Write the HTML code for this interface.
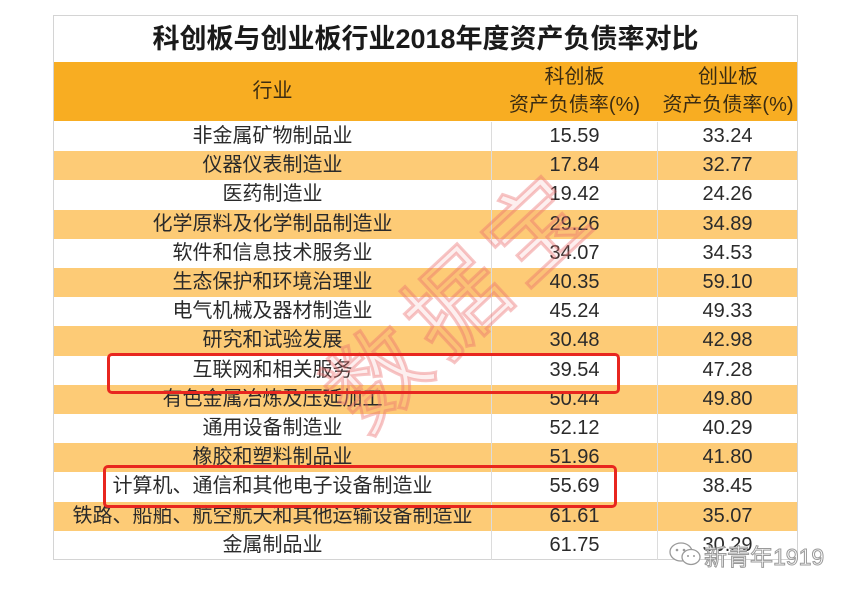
<!DOCTYPE html>
<html>
<head>
<meta charset="utf-8">
<style>
html,body{margin:0;padding:0;}
body{width:848px;height:592px;background:#fff;position:relative;overflow:hidden;font-family:"Liberation Sans","Noto Sans CJK SC",sans-serif;}
.tbl{position:absolute;left:53px;top:15px;width:745px;height:545px;border:1px solid #d4d4d4;box-sizing:border-box;background:#fff;}
.title{position:absolute;left:53px;top:15px;width:745px;height:47px;line-height:48px;text-align:center;font-size:27px;font-weight:bold;color:#1a1a1a;}
.hdr{position:absolute;left:54px;top:62px;width:743px;height:59px;background:#f8ad22;}
.h{position:absolute;color:#3b2c12;font-size:20px;text-align:center;line-height:28px;white-space:nowrap;}
.row{position:absolute;left:54px;width:743px;height:29.2px;}
.row.o{background:#fdcb76;}
.c{position:absolute;top:0;height:29.2px;line-height:29px;font-size:20px;color:#2a2a2a;text-align:center;white-space:nowrap;}
.c1{left:0;width:437px;}
.c2{left:437px;width:167px;}
.c3{left:604px;width:139px;}
.vl{position:absolute;width:1px;background:#dcdcdc;top:122px;height:438px;}
.box{position:absolute;border:3.5px solid #e8261f;border-radius:5px;box-sizing:border-box;}
.wm{position:absolute;left:285px;top:240px;width:340px;height:110px;line-height:110px;text-align:center;font-size:98px;letter-spacing:10px;color:rgba(240,120,120,0.12);-webkit-text-stroke:3px rgba(236,110,110,0.4);transform:rotate(-43deg);transform-origin:50% 50%;font-family:"Noto Sans CJK SC",sans-serif;}
.logo{position:absolute;left:704px;top:538px;font-size:23px;color:#fff;-webkit-text-stroke:1px #9a9a9a;font-family:"Liberation Sans","Noto Sans CJK SC",sans-serif;}
</style>
</head>
<body>
<div class="tbl"></div>
<div class="title">科创板与创业板行业2018年度资产负债率对比</div>
<div class="hdr"></div>
<div class="h" style="left:54px;top:77px;width:437px;">行业</div>
<div class="h" style="left:491px;top:63px;width:167px;">科创板</div>
<div class="h" style="left:491px;top:91px;width:167px;">资产负债率(%)</div>
<div class="h" style="left:658px;top:63px;width:140px;">创业板</div>
<div class="h" style="left:658px;top:91px;width:140px;">资产负债率(%)</div>

<div class="row" style="top:122px"><div class="c c1">非金属矿物制品业</div><div class="c c2">15.59</div><div class="c c3">33.24</div></div>
<div class="row o" style="top:151.2px"><div class="c c1">仪器仪表制造业</div><div class="c c2">17.84</div><div class="c c3">32.77</div></div>
<div class="row" style="top:180.4px"><div class="c c1">医药制造业</div><div class="c c2">19.42</div><div class="c c3">24.26</div></div>
<div class="row o" style="top:209.6px"><div class="c c1">化学原料及化学制品制造业</div><div class="c c2">29.26</div><div class="c c3">34.89</div></div>
<div class="row" style="top:238.8px"><div class="c c1">软件和信息技术服务业</div><div class="c c2">34.07</div><div class="c c3">34.53</div></div>
<div class="row o" style="top:268px"><div class="c c1">生态保护和环境治理业</div><div class="c c2">40.35</div><div class="c c3">59.10</div></div>
<div class="row" style="top:297.2px"><div class="c c1">电气机械及器材制造业</div><div class="c c2">45.24</div><div class="c c3">49.33</div></div>
<div class="row o" style="top:326.4px"><div class="c c1">研究和试验发展</div><div class="c c2">30.48</div><div class="c c3">42.98</div></div>
<div class="row" style="top:355.6px"><div class="c c1">互联网和相关服务</div><div class="c c2">39.54</div><div class="c c3">47.28</div></div>
<div class="row o" style="top:384.8px"><div class="c c1">有色金属冶炼及压延加工</div><div class="c c2">50.44</div><div class="c c3">49.80</div></div>
<div class="row" style="top:414px"><div class="c c1">通用设备制造业</div><div class="c c2">52.12</div><div class="c c3">40.29</div></div>
<div class="row o" style="top:443.2px"><div class="c c1">橡胶和塑料制品业</div><div class="c c2">51.96</div><div class="c c3">41.80</div></div>
<div class="row" style="top:472.4px"><div class="c c1">计算机、通信和其他电子设备制造业</div><div class="c c2">55.69</div><div class="c c3">38.45</div></div>
<div class="row o" style="top:501.6px"><div class="c c1">铁路、船舶、航空航天和其他运输设备制造业</div><div class="c c2">61.61</div><div class="c c3">35.07</div></div>
<div class="row" style="top:530.8px"><div class="c c1">金属制品业</div><div class="c c2">61.75</div><div class="c c3">30.29</div></div>

<div class="vl" style="left:491px"></div>
<div class="vl" style="left:657px"></div>

<div class="wm">数据宝</div>

<div class="box" style="left:107px;top:353px;width:513px;height:41px;"></div>
<div class="box" style="left:103px;top:465px;width:514px;height:43px;"></div>

<svg style="position:absolute;left:668px;top:541px" width="36" height="26" viewBox="0 0 36 26">
<ellipse cx="13" cy="11" rx="11" ry="9" fill="#fff" stroke="#9a9a9a" stroke-width="1.3"/>
<ellipse cx="23" cy="16" rx="9" ry="7.5" fill="#fff" stroke="#9a9a9a" stroke-width="1.3"/>
<circle cx="9" cy="9" r="1.3" fill="#9a9a9a"/><circle cx="16" cy="9" r="1.3" fill="#9a9a9a"/>
<circle cx="20" cy="15" r="1" fill="#9a9a9a"/><circle cx="26" cy="15" r="1" fill="#9a9a9a"/>
</svg>
<div class="logo">新青年1919</div>
</body>
</html>
